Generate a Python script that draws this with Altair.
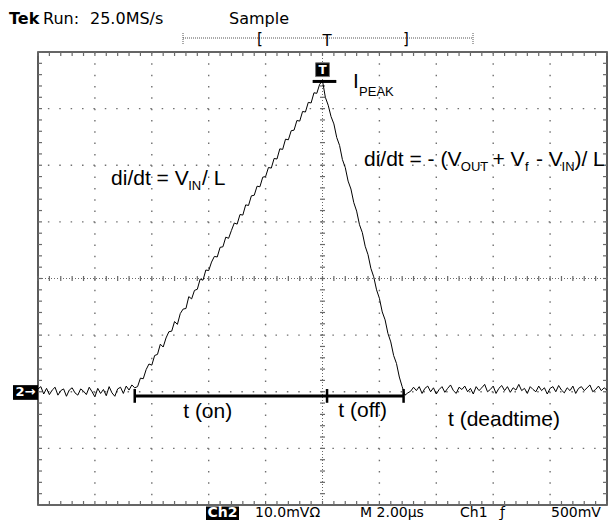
import altair as alt
import pandas as pd

# ---------------- data ----------------
# oscilloscope trace (Ch2, mV), sampled every 0.1 us, in four segments
seg_starts = [0.0, 3.4, 10.1, 13.1]
base_before = [0.5, 0.9, -0.4, 0.6, -0.5, 0.3, 0.8, -0.6, 0.2, 0.5,
               -0.8, 0.3, 0.7, -0.2, -0.6, 0.5, 0.1, -0.5, 0.8, 0.0,
               -0.9, 0.6, -0.3, 0.4, -0.7, 0.9, -0.2, -0.8, 0.5, 0.8,
               -0.3, 1.0, 0.3, 1.2]
rise = [0.7, 0.9, 2.4, 2.3, 3.9, 4.9, 4.7, 6.4, 6.6, 8.4,
        7.9, 9.5, 10.6, 10.7, 12.4, 11.9, 13.8, 14.6, 14.7, 16.8,
        16.4, 17.9, 18.1, 19.9, 19.7, 21.5, 21.4, 22.9, 23.9, 23.8,
        25.5, 25.6, 27.3, 27.1, 28.5, 29.8, 29.6, 31.3, 31.2, 33.0,
        32.9, 34.6, 34.7, 36.3, 36.2, 37.9, 38.0, 39.6, 39.5, 41.2,
        41.1, 42.9, 42.8, 44.6, 44.5, 46.1, 46.2, 47.9, 47.8, 49.5,
        49.4, 51.1, 51.0, 52.8, 52.7, 54.3, 54.9]
fall = [52.0, 50.6, 48.6, 47.3, 44.9, 43.5, 41.0, 39.6, 37.2, 35.8,
        33.4, 31.9, 29.5, 28.1, 25.7, 24.2, 21.8, 20.3, 18.0, 16.5,
        14.1, 12.7, 10.3, 8.8, 6.4, 5.0, 2.6, 0.9, -0.6, -0.2]
base_after = [0.1, 0.8, 0.2, 0.9, -0.3, 0.6, 1.0, 0.0, 0.7, -0.4,
              0.4, 0.9, -0.1, 0.6, 1.2, 0.2, -0.3, 0.8, 0.4, 1.0,
              0.0, 0.6, -0.4, 0.9, 0.2, 0.7, 1.3, 0.0, 0.4, 1.0,
              -0.3, 0.6, 1.1, 0.2, 0.9, -0.1, 0.7, 0.3, 1.3, 0.2,
              0.6, -0.3, 0.9, 0.4, 0.0, 1.0, 0.2, 0.7, -0.4, 0.6,
              0.9, 0.0, 1.1, 0.3, -0.2, 0.7, 0.2, 1.0, -0.3, 0.6,
              0.9, 0.2, 0.7, 1.2, 0.0, 0.4, 1.0, 0.2, 0.7, 0.3]
segments = [base_before, rise, fall, base_after]

# screen grid: 10 x 8 divisions, 2 us/div, 10 mV/div
x_div = [2, 4, 6, 8, 12, 14, 16, 18]
y_div = [-10, 0, 10, 30, 40, 50]

# annotations (us, mV)
big_labels = ["di/dt = V", "/ L", "di/dt = - (V", "+ V", "- V", ")/ L", "I",
              "t (on)", "t (off)", "t (deadtime)"]
big_t = [2.569, 5.764, 11.458, 15.972, 17.50, 18.854, 11.076, 5.104, 10.556, 14.41]
big_v = [36.57, 36.57, 39.87, 39.87, 39.87, 39.87, 53.58, -4.56, -4.38, -6.12]
sub_labels = ["IN", "OUT", "f", "IN", "PEAK"]
sub_t = [5.278, 14.861, 17.118, 18.403, 11.285]
sub_v = [35.70, 39.00, 39.00, 39.00, 52.28]

span_t = [3.40, 12.85]
span_v = -0.74
span_marks_t = [3.40, 10.16, 12.85]
peak_t = 10.0
peak_v = 54.8

header_labels = ["Tek", "Run:", "25.0MS/s", "Sample"]
footer_labels = ["10.0mVΩ", "M 2.00µs", "Ch1", "ƒ", "500mV"]

# ---------------- build ----------------
times, values = [], []
for start, seg in zip(seg_starts, segments):
    for i, val in enumerate(seg):
        times.append(round(start + i * 0.1, 2))
        values.append(val)
trace_df = pd.DataFrame({"t": times, "v": values})

X = alt.Scale(domain=[0, 20], nice=False, zero=False)
Y = alt.Scale(domain=[-20, 60], nice=False, zero=False)
W, H = 569, 453
one = pd.DataFrame({"a": [0]})
gray = "#6a6a6a"

trace = alt.Chart(trace_df).mark_line(color="black", strokeWidth=1).encode(
    x=alt.X("t:Q", scale=X, axis=None),
    y=alt.Y("v:Q", scale=Y, axis=None),
)

grid_v = alt.Chart(pd.DataFrame({"t": x_div})).mark_rule(
    color="#707070", strokeDash=[1.5, H / 40 - 1.5], strokeWidth=1.4).encode(
    x=alt.X("t:Q", scale=X, axis=None))
grid_h = alt.Chart(pd.DataFrame({"v": y_div})).mark_rule(
    color="#707070", strokeDash=[1.5, W / 50 - 1.5], strokeWidth=1.4).encode(
    y=alt.Y("v:Q", scale=Y, axis=None))

x_minor = [round(i * 0.4, 2) for i in range(51)]
y_minor = [-20 + 2 * i for i in range(41)]
xm = pd.DataFrame({"t": x_minor})
ym = pd.DataFrame({"v": y_minor})

def xticks(y0, y1, color=gray, width=1.2):
    return alt.Chart(xm).mark_rule(color=color, strokeWidth=width).encode(
        x=alt.X("t:Q", scale=X, axis=None), y=alt.value(y0), y2=alt.value(y1))

def yticks(x0, x1, color=gray, width=1.2):
    return alt.Chart(ym).mark_rule(color=color, strokeWidth=width).encode(
        y=alt.Y("v:Q", scale=Y, axis=None), x=alt.value(x0), x2=alt.value(x1))

center_v = alt.Chart(pd.DataFrame({"t": [10]})).mark_rule(
    color=gray, strokeDash=[1, 2], strokeWidth=1).encode(x=alt.X("t:Q", scale=X, axis=None))
center_h = alt.Chart(pd.DataFrame({"v": [20]})).mark_rule(
    color=gray, strokeDash=[1, 2], strokeWidth=1).encode(y=alt.Y("v:Q", scale=Y, axis=None))

layers = [grid_v, grid_h, center_v, center_h,
          xticks(0, 4), xticks(H - 4, H), xticks(H / 2 - 2.5, H / 2 + 2.5),
          yticks(0, 4), yticks(W - 4, W), yticks(W / 2 - 2.5, W / 2 + 2.5),
          trace]

# t(on)/t(off) span bar
span = alt.Chart(pd.DataFrame({"t": [span_t[0]], "t2": [span_t[1]], "v": [span_v]})).mark_rule(
    color="black", strokeWidth=3).encode(
    x=alt.X("t:Q", scale=X, axis=None), x2="t2:Q", y=alt.Y("v:Q", scale=Y, axis=None))
span_marks = alt.Chart(pd.DataFrame({"t": span_marks_t})).mark_rule(
    color="black", strokeWidth=2.5).encode(
    x=alt.X("t:Q", scale=X, axis=None),
    y=alt.Y("lo:Q", scale=Y, axis=None), y2="hi:Q").transform_calculate(lo="0.48", hi="-1.95")
layers += [span, span_marks]

# peak marker (T box + bar)
peak_box = alt.Chart(one).mark_rect(color="black", stroke="#777", strokeWidth=1).encode(
    x=alt.X("x1:Q", scale=X, axis=None), x2="x2:Q",
    y=alt.Y("y1:Q", scale=Y, axis=None), y2="y2:Q").transform_calculate(
    x1=str(peak_t - 0.243), x2=str(peak_t + 0.243), y1="55.66", y2="58.09")
peak_T = alt.Chart(pd.DataFrame({"t": [peak_t], "v": [56.9], "s": ["T"]})).mark_text(
    font="DejaVu Sans", fontSize=12, fontWeight="bold", color="white", baseline="middle").encode(
    x=alt.X("t:Q", scale=X, axis=None), y=alt.Y("v:Q", scale=Y, axis=None), text="s:N")
peak_bar = alt.Chart(pd.DataFrame({"t": [peak_t - 0.347], "t2": [peak_t + 0.486], "v": [peak_v]})).mark_rule(
    color="black", strokeWidth=3).encode(
    x=alt.X("t:Q", scale=X, axis=None), x2="t2:Q", y=alt.Y("v:Q", scale=Y, axis=None))
layers += [peak_box, peak_T, peak_bar]

# channel-2 ground marker
ch_box = alt.Chart(one).mark_rect(color="black").encode(
    x=alt.X("x1:Q", scale=X, axis=None), x2="x2:Q",
    y=alt.Y("y1:Q", scale=Y, axis=None), y2="y2:Q").transform_calculate(
    x1="-0.878", x2="0", y1="-1.43", y2="1.17")
ch_txt = alt.Chart(pd.DataFrame({"t": [-0.44], "v": [-0.13], "s": ["2→"]})).mark_text(
    font="DejaVu Sans", fontSize=13, fontWeight="bold", color="white", baseline="middle").encode(
    x=alt.X("t:Q", scale=X, axis=None), y=alt.Y("v:Q", scale=Y, axis=None), text="s:N")
layers += [ch_box, ch_txt]

# formula and time annotations
big = alt.Chart(pd.DataFrame({"t": big_t, "v": big_v, "s": big_labels})).mark_text(
    font="Liberation Sans", fontSize=21, align="left", baseline="alphabetic", color="black").encode(
    x=alt.X("t:Q", scale=X, axis=None), y=alt.Y("v:Q", scale=Y, axis=None), text="s:N")
sub = alt.Chart(pd.DataFrame({"t": sub_t, "v": sub_v, "s": sub_labels})).mark_text(
    font="Liberation Sans", fontSize=13, align="left", baseline="alphabetic", color="black").encode(
    x=alt.X("t:Q", scale=X, axis=None), y=alt.Y("v:Q", scale=Y, axis=None), text="s:N")
layers += [big, sub]

# header (pixel positions relative to the plot area)
def ptext(label, px, py, size=17, weight="normal", color="black", align="left", baseline="alphabetic"):
    return alt.Chart(one).mark_text(text=label, font="DejaVu Sans", fontSize=size, fontWeight=weight,
                                    color=color, align=align, baseline=baseline).encode(
        x=alt.value(px), y=alt.value(py))

hx = [-29, 5, 52, 191]
layers.append(ptext(header_labels[0], hx[0], -28, 16, "bold"))
for lab, px in zip(header_labels[1:], hx[1:]):
    layers.append(ptext(lab, px, -28, 16))

# trigger position bar
trig_line = alt.Chart(one).mark_rule(color="#555", strokeDash=[1, 1], strokeWidth=1).encode(
    x=alt.value(145), x2=alt.value(435), y=alt.value(-14))
trig_end1 = alt.Chart(one).mark_rule(color="#555", strokeDash=[1, 1], strokeWidth=1).encode(
    x=alt.value(145), y=alt.value(-19), y2=alt.value(-8))
trig_end2 = alt.Chart(one).mark_rule(color="#555", strokeDash=[1, 1], strokeWidth=1).encode(
    x=alt.value(435), y=alt.value(-19), y2=alt.value(-8))
layers += [trig_line, trig_end1, trig_end2,
           ptext("[", 219, -13, 15, baseline="middle"),
           ptext("T", 289, -6, 15, align="center"),
           ptext("]", 365, -13, 15, baseline="middle")]

# footer
fy = H + 12
ch2_box = alt.Chart(one).mark_rect(color="black").encode(
    x=alt.value(168), x2=alt.value(201), y=alt.value(H + 1.5), y2=alt.value(H + 15))
layers += [ch2_box, ptext("Ch2", 184.5, fy, 14, "bold", "white", align="center")]
fx = [217, 322, 422, 462, 513]
for lab, px in zip(footer_labels, fx):
    layers.append(ptext(lab, px, fy, 14))

chart = alt.layer(*layers).properties(
    width=W, height=H,
    autosize=alt.AutoSizeParams(type="none"),
    padding={"left": 30, "top": 44, "right": 1, "bottom": 16},
    background="white",
).configure_view(stroke="#333", strokeWidth=1.6)

chart.save("out.html", embed_options={"renderer": "svg", "actions": False})
